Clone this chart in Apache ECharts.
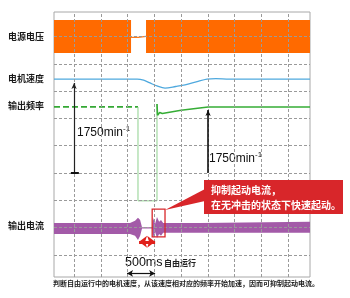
<!DOCTYPE html>
<html><head><meta charset="utf-8">
<script src="https://cdn.jsdelivr.net/npm/echarts@6/dist/echarts.min.js"></script>
<style>html,body{margin:0;padding:0;background:#fff}#c{width:350px;height:298px}</style>
</head><body><div id="c"></div>
<script>
// Units: oscilloscope divisions (x: time divisions, y: vertical divisions)
const xMin = -0.75, xMax = 8.82, yMin = -0.81, yMax = 8.9;
const gridX = [0, 1, 2, 3, 4, 5, 6, 7, 8];
const gridY = [0, 1, 2, 3, 4, 5, 6, 7, 8];

const traceLabels = ['电源电压', '电机速度', '输出频率', '输出电流'];

// 电源电压 (orange band, two blocks with a gap)
const supplyBlock1X = [-0.75, 2.13];
const supplyBlock2X = [2.69, 8.82];
const supplyTop = [8.61, 8.61];
const supplyBottom = [7.40, 7.40];
const supplyGap = [[2.13, 7.97], [2.40, 7.97], [2.42, 8.01], [2.69, 8.01]];

// 电机速度 (blue)
const speed = [[-0.75, 6.44], [2.36, 6.44], [2.6, 6.40], [2.84, 6.30], [3.10, 6.19], [3.40, 6.11],
  [3.8, 6.17], [4.15, 6.23], [4.6, 6.35], [4.97, 6.44], [5.3, 6.46], [5.8, 6.44], [8.82, 6.44]];

// 输出频率 (green)
const freqBefore = [[-0.75, 5.42], [2.39, 5.42]];
const freqDrop = [[2.39, 5.42], [2.39, 1.98], [3.10, 1.98], [3.10, 5.53]];
const freqAfter = [[3.10, 5.53], [3.12, 5.12], [3.2, 5.22], [3.3, 5.18], [4.0, 5.30], [5.01, 5.42], [8.82, 5.42]];

// 输出电流 (purple envelope)
const currentX = [-0.75, 2.09, 2.28, 2.39, 2.47, 2.54, 2.92, 2.95, 3.03, 3.10, 3.18, 3.25, 3.33, 4.71, 8.82];
const currentTop = [1.17, 1.17, 1.25, 1.36, 1.28, 1.01, 1.01, 1.36, 1.14, 1.39, 1.21, 1.28, 1.17, 1.17, 1.21];
const currentBottom = [0.77, 0.77, 0.70, 0.55, 0.70, 0.97, 0.97, 0.62, 0.84, 0.62, 0.77, 0.70, 0.81, 0.81, 0.81];

// markers
const speedMarker1 = [[0, 3.0], [0, 6.3]];
const speedMarker2 = [[5.01, 3.0], [5.01, 5.31]];
const markerTicks = [[-0.12, 3.0], [0.18, 3.0]];
const highlightBox = [[2.92, 1.68], [3.40, 0.66]];
const restartArrow = [[2.43, 0.48], [3.03, 0.48]];
const spanArrow = [[1.98, -0.68], [3.03, -0.68]];

const speedText = '1750min';
const spanText = '500ms';
const coastText = '自由运行';
const calloutLines = ['抑制起动电流，', '在无冲击的状态下快速起动。'];
const caption = '判断自由运行中的电机速度，从该速度相对应的频率开始加速，因而可抑制起动电流。';

function band(xs, tops, bottoms, color, z) {
  return {
    type: 'custom', coordinateSystem: 'cartesian2d', silent: true, z: z,
    data: [[xs[0], tops[0]]],
    renderItem: function (params, api) {
      const pts = [];
      for (let i = 0; i < xs.length; i++) pts.push(api.coord([xs[i], tops[i]]));
      for (let i = xs.length - 1; i >= 0; i--) pts.push(api.coord([xs[i], bottoms[i]]));
      return { type: 'polygon', shape: { points: pts }, style: { fill: color } };
    }
  };
}

const chart = echarts.init(document.getElementById('c'), null, { renderer: 'canvas' });
const CJK = '"Noto Sans CJK SC", sans-serif';
const LAT = '"Liberation Sans", Arial, sans-serif';

const option = {
  animation: false,
  grid: { left: 54, top: 12, width: 256, height: 265, show: true, borderColor: '#a8a8a8', borderWidth: 1 },
  xAxis: { type: 'value', min: xMin, max: xMax, show: false },
  yAxis: { type: 'value', min: yMin, max: yMax, show: false },
  series: [
    {
      type: 'line', data: [[xMin, yMin]], symbol: 'none', lineStyle: { opacity: 0 }, silent: true, z: 1,
      markLine: {
        silent: true, symbol: 'none', label: { show: false },
        lineStyle: { color: '#9a9a9a', width: 1, type: [3, 2] },
        data: gridX.map(x => ({ xAxis: x })).concat(gridY.map(y => ({ yAxis: y })))
      }
    },
    band(supplyBlock1X, supplyTop, supplyBottom, '#ff6a00', 3),
    band(supplyBlock2X, supplyTop, supplyBottom, '#ff6a00', 3),
    { type: 'line', data: supplyGap, symbol: 'none', lineStyle: { color: '#ff7a1a', width: 1.2 }, z: 3 },
    { type: 'line', data: speed, symbol: 'none', smooth: 0.3, lineStyle: { color: '#4fa9de', width: 1.3 }, z: 4 },
    { type: 'line', data: freqBefore, symbol: 'none', lineStyle: { color: '#34a834', width: 1.8, type: [6, 3] }, z: 4 },
    { type: 'line', data: freqDrop, symbol: 'none', lineStyle: { color: '#8fd18f', width: 1 }, z: 4 },
    { type: 'line', data: freqAfter, symbol: 'none', lineStyle: { color: '#36ad36', width: 1.6 }, z: 4 },
    band(currentX, currentTop, currentBottom, '#a35aa8', 4),
    { type: 'line', data: markerTicks, symbol: 'none', lineStyle: { color: '#111', width: 2 }, z: 5 },
    {
      type: 'line', data: [], symbol: 'none', z: 5,
      markLine: {
        silent: true, label: { show: false }, animation: false,
        data: [
          [{ coord: speedMarker1[0], symbol: 'none' }, { coord: speedMarker1[1], symbol: 'arrow', symbolSize: [4, 6], lineStyle: { color: '#222', width: 1.2, type: 'solid' } }],
          [{ coord: speedMarker2[0], symbol: 'none' }, { coord: speedMarker2[1], symbol: 'arrow', symbolSize: [4, 6], lineStyle: { color: '#111', width: 1.6, type: 'solid' } }],
          [{ coord: restartArrow[0], symbol: 'arrow', symbolSize: [9, 8] }, { coord: restartArrow[1], symbol: 'arrow', symbolSize: [9, 8], lineStyle: { color: '#e0201a', width: 3, type: 'solid' } }],
          [{ coord: spanArrow[0], symbol: 'arrow', symbolSize: [5, 6] }, { coord: spanArrow[1], symbol: 'arrow', symbolSize: [5, 6], lineStyle: { color: '#111', width: 1.2, type: 'solid' } }]
        ],
        lineStyle: { type: 'solid' }
      }
    },
    {
      type: 'custom', coordinateSystem: 'cartesian2d', silent: true, z: 6,
      data: [highlightBox[0]],
      renderItem: function (params, api) {
        const a = api.coord(highlightBox[0]), b = api.coord(highlightBox[1]);
        return { type: 'rect', shape: { x: a[0], y: a[1], width: b[0] - a[0], height: b[1] - a[1] },
          style: { fill: 'none', stroke: '#d8262a', lineWidth: 1.3 } };
      }
    }
  ],
  graphic: [
    { type: 'text', left: 8, top: 32, style: { text: traceLabels[0], font: 'bold 9px ' + CJK, fill: '#1a1a1a' } },
    { type: 'text', left: 8, top: 74, style: { text: traceLabels[1], font: 'bold 9px ' + CJK, fill: '#1a1a1a' } },
    { type: 'text', left: 8, top: 101, style: { text: traceLabels[2], font: 'bold 9px ' + CJK, fill: '#1a1a1a' } },
    { type: 'text', left: 8, top: 221, style: { text: traceLabels[3], font: 'bold 9px ' + CJK, fill: '#1a1a1a' } },
    { type: 'text', left: 77, top: 125, style: { text: speedText + '{s|-1}', font: '12px ' + LAT, fill: '#111',
        rich: { s: { fontSize: 8, fontFamily: 'Liberation Sans', padding: [0, 0, 8, 0], fill: '#111' } } } },
    { type: 'text', left: 209, top: 151, style: { text: speedText + '{s|-1}', font: '12px ' + LAT, fill: '#111',
        rich: { s: { fontSize: 8, fontFamily: 'Liberation Sans', padding: [0, 0, 8, 0], fill: '#111' } } } },
    { type: 'text', left: 125, top: 256, style: { text: spanText, font: '12.5px ' + LAT, fill: '#111' } },
    { type: 'text', left: 164, top: 259, style: { text: coastText, font: 'bold 8px ' + CJK, fill: '#222' } },
    { type: 'polygon', z: 10, shape: { points: [[165, 210], [205, 189], [205, 201]] }, style: { fill: '#d8262a' } },
    { type: 'rect', z: 10, shape: { x: 204, y: 180, width: 139, height: 34 }, style: { fill: '#d8262a' } },
    { type: 'text', z: 11, left: 211, top: 185, style: { text: calloutLines[0], font: 'bold 10px ' + CJK, fill: '#fff' } },
    { type: 'text', z: 11, left: 211, top: 200, style: { text: calloutLines[1], font: 'bold 10px ' + CJK, fill: '#fff' } },
    { type: 'text', left: 53, top: 280, style: { text: caption, font: 'bold 7px ' + CJK, fill: '#222' } }
  ]
};
chart.setOption(option);
</script></body></html>
